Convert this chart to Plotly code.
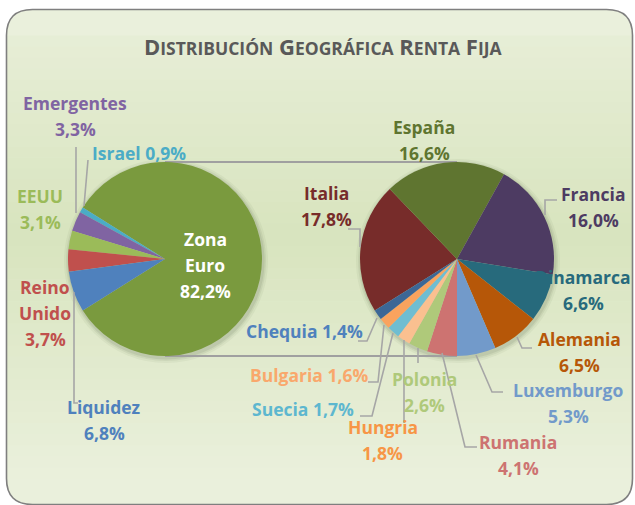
import plotly.graph_objects as go

# ---------------- data ----------------
outer_labels = ["Zona Euro", "Israel", "Emergentes", "EEUU", "Reino Unido", "Liquidez"]
outer_values = [82.2, 0.9, 3.3, 3.1, 3.7, 6.8]

euro_labels = ["Italia", "España", "Francia", "Dinamarca", "Alemania", "Luxemburgo",
               "Rumania", "Polonia", "Hungria", "Suecia", "Bulgaria", "Chequia"]
euro_values = [17.8, 16.6, 16.0, 6.6, 6.5, 5.3, 4.1, 2.6, 1.8, 1.7, 1.6, 1.4]

title_text = "Distribución Geográfica Renta Fija"

# ---------------- styles ----------------
W, H = 635, 505
outer_colors = ["#7A9A3E", "#4BACC6", "#8064A2", "#9BBB59", "#C0504D", "#4F81BD"]
euro_colors = ["#772C2A", "#5F7530", "#4D3B62", "#276A7C", "#B65708", "#729ACA",
               "#CD7371", "#AFC97A", "#FAC090", "#6FBDD1", "#F9A35E", "#3C6796"]
outer_text_colors = {"Zona Euro": "white", "Israel": "#4BACC6", "Emergentes": "#8064A2",
                     "EEUU": "#9BBB59", "Reino Unido": "#C0504D", "Liquidez": "#4F81BD"}
euro_text_colors = {"Italia": "#772C2A", "España": "#5F7530", "Francia": "#4D3B62",
                    "Dinamarca": "#276A7C", "Alemania": "#B65708", "Luxemburgo": "#729ACA",
                    "Rumania": "#CD7371", "Polonia": "#AFC97A", "Hungria": "#F79646",
                    "Suecia": "#5DB7CF", "Bulgaria": "#F9A86C", "Chequia": "#4F81BD"}

FONT = "Open Sans"
FS = 17.5
LINE = 26

def px(x):
    return x / W

def py(y):
    return 1 - y / H

def pct(v):
    return f"{v:.1f}".replace(".", ",") + "%"

# label layout: (x, y of first line, lines mode)
label_pos = {
    "Zona Euro": (205, 239, "split"),
    "Israel": (139, 153, "one"),
    "Emergentes": (75, 103, "two"),
    "EEUU": (40, 196, "two"),
    "Reino Unido": (45, 287, "split"),
    "Liquidez": (104, 407, "two"),
    "Italia": (326, 193, "two"),
    "España": (424, 127, "two"),
    "Francia": (593, 194, "two"),
    "Dinamarca": (583, 277, "two"),
    "Alemania": (579, 339, "two"),
    "Luxemburgo": (568, 390, "two"),
    "Rumania": (518, 442, "two"),
    "Polonia": (424, 379, "two"),
    "Hungria": (383, 427, "two"),
    "Suecia": (303, 409, "one"),
    "Bulgaria": (309, 375, "one"),
    "Chequia": (304, 331, "one"),
}

# leader lines (pixel polylines)
leaders = [
    [(76, 147), (76, 213)],
    [(88, 160), (84, 206)],
    [(74, 292), (74, 403), (78, 403)],
    [(557, 200), (545, 200), (545, 215)],
    [(348, 229), (360, 229), (360, 247)],
    [(532, 348), (522, 348), (517, 337)],
    [(503, 392), (492, 392), (476, 355)],
    [(477, 447), (465, 447), (442, 353)],
    [(418, 348), (418, 363)],
    [(404, 340), (404, 423)],
    [(360, 416), (372, 416), (393, 333)],
    [(368, 382), (378, 382), (384, 325)],
    [(358, 341), (367, 341), (377, 318)],
]

small_share = sum(outer_values[1:])
rot_left = -90 + small_share * 1.8   # remaining slices centred at 9 o'clock
rot_right = -90 - small_share * 1.8

# pie geometry (pixels)
R = 97
CL = (165, 259)
CR = (457, 259)

fig = go.Figure()
fig.add_trace(go.Pie(
    labels=outer_labels, values=outer_values, sort=False, direction="counterclockwise",
    rotation=rot_left, marker=dict(colors=outer_colors, line=dict(width=0)),
    textinfo="none", hoverinfo="label+percent", showlegend=False,
    domain=dict(x=[px(CL[0] - R), px(CL[0] + R)], y=[py(CL[1] + R), py(CL[1] - R)]),
))
fig.add_trace(go.Pie(
    labels=euro_labels, values=euro_values, sort=False, direction="clockwise",
    rotation=rot_right, marker=dict(colors=euro_colors, line=dict(width=0)),
    textinfo="none", hoverinfo="label+value", showlegend=False,
    domain=dict(x=[px(CR[0] - R), px(CR[0] + R)], y=[py(CR[1] + R), py(CR[1] - R)]),
))

shapes = []
x0, x1, y0, y1, rr = 6.5, 632.5, 9.5, 504.5, 26

def rounded_path(x0, y0, x1, y1, r):
    return (f"M {px(x0 + r)},{py(y0)} L {px(x1 - r)},{py(y0)} "
            f"Q {px(x1)},{py(y0)} {px(x1)},{py(y0 + r)} "
            f"L {px(x1)},{py(y1 - r)} Q {px(x1)},{py(y1)} {px(x1 - r)},{py(y1)} "
            f"L {px(x0 + r)},{py(y1)} Q {px(x0)},{py(y1)} {px(x0)},{py(y1 - r)} "
            f"L {px(x0)},{py(y0 + r)} Q {px(x0)},{py(y0)} {px(x0 + r)},{py(y0)} Z")

edge = (234, 240, 220)
mid = (216, 228, 190)
shapes.append(dict(type="path", path=rounded_path(x0, y0, x1, y1, rr), xref="paper", yref="paper",
                   fillcolor="rgb(%d,%d,%d)" % edge, line=dict(width=0), layer="below"))
gy0, gy1 = y0 + rr, y1 - rr
n = 40
for i in range(n):
    a = gy0 + (gy1 - gy0) * i / n
    b = gy0 + (gy1 - gy0) * (i + 1) / n
    t = (i + 0.5) / n
    w = 1 - abs(t - 0.45) / 0.55
    w = max(0.0, min(1.0, w))
    c = tuple(int(round(edge[k] + (mid[k] - edge[k]) * w)) for k in range(3))
    shapes.append(dict(type="rect", xref="paper", yref="paper", x0=px(x0 + 0.5), x1=px(x1 - 0.5),
                       y0=py(b + 0.5), y1=py(a), fillcolor="rgb(%d,%d,%d)" % c,
                       line=dict(width=0), layer="below"))
shapes.append(dict(type="path", path=rounded_path(x0, y0, x1, y1, rr), xref="paper", yref="paper",
                   fillcolor="rgba(0,0,0,0)", line=dict(width=1.6, color="#7F7F7F"), layer="below"))

# soft shadows behind the pies
for c in (CL, CR):
    for k, op in ((5, 0.05), (3, 0.07), (1.5, 0.09)):
        shapes.append(dict(type="circle", xref="paper", yref="paper",
                           x0=px(c[0] - R - k + 1), x1=px(c[0] + R + k + 1),
                           y0=py(c[1] + R + k + 2), y1=py(c[1] - R - k + 2),
                           fillcolor=f"rgba(60,70,40,{op})", line=dict(width=0), layer="below"))

# connector lines between pies
for yy in (CL[1] - R, CL[1] + R):
    shapes.append(dict(type="line", xref="paper", yref="paper", x0=px(CL[0]), x1=px(CR[0]),
                       y0=py(yy), y1=py(yy), line=dict(color="#A0A0A0", width=2), layer="below"))

# leader lines
for pts in leaders:
    path = "M " + " L ".join(f"{px(x)},{py(y)}" for x, y in pts)
    shapes.append(dict(type="path", path=path, xref="paper", yref="paper",
                       line=dict(color="#A6A6A6", width=1.6)))

annotations = []

def add_text(x, y, text, color, size=FS):
    annotations.append(dict(x=px(x), y=py(y), xref="paper", yref="paper", text=f"<b>{text}</b>",
                            showarrow=False, xanchor="center", yanchor="middle",
                            font=dict(family=FONT, size=size, color=color)))

def place(lbl, val, color):
    x, y, mode = label_pos[lbl]
    if mode == "one":
        add_text(x, y, f"{lbl} {pct(val)}", color)
    elif mode == "two":
        add_text(x, y, lbl, color)
        add_text(x, y + LINE, pct(val), color)
    else:
        parts = lbl.split(" ")
        for j, p in enumerate(parts):
            add_text(x, y + LINE * j, p, color)
        add_text(x, y + LINE * len(parts), pct(val), color)

for lbl, val in zip(outer_labels, outer_values):
    place(lbl, val, outer_text_colors[lbl])
for lbl, val in zip(euro_labels, euro_values):
    place(lbl, val, euro_text_colors[lbl])

def small_caps(s, small):
    out = []
    for word in s.split(" "):
        out.append(word[0].upper() + f"<span style='font-size:{small}px'>{word[1:].upper()}</span>")
    return " ".join(out)

annotations.append(dict(x=px(323), y=py(46), xref="paper", yref="paper",
                        text="<b>" + small_caps(title_text, 17.5) + "</b>", showarrow=False,
                        xanchor="center", yanchor="middle",
                        font=dict(family=FONT, size=22, color="#595959")))

fig.update_layout(
    width=W, height=H, autosize=False,
    margin=dict(l=0, r=0, t=0, b=0),
    paper_bgcolor="white", plot_bgcolor="white",
    shapes=shapes, annotations=annotations,
)

fig.write_html("out.html", config={"displayModeBar": False},
               post_script="document.body.style.margin='0';document.body.style.overflow='hidden';")
